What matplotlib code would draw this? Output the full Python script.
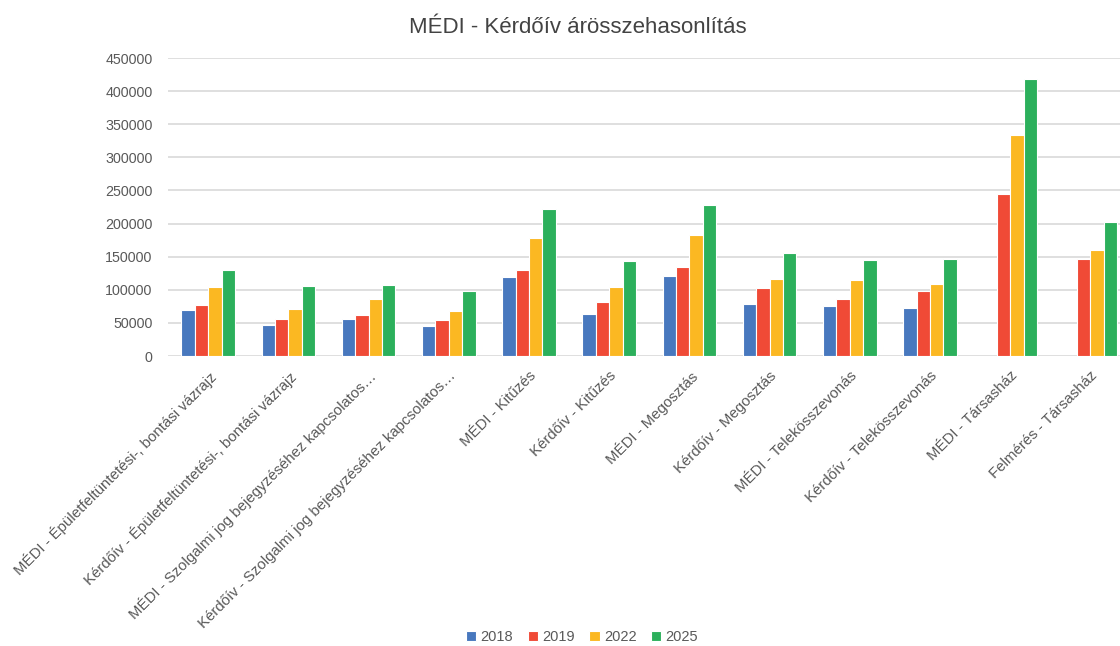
import matplotlib.pyplot as plt
import numpy as np

plt.rcParams['font.family'] = ['Liberation Sans', 'DejaVu Sans']

categories = [
    "MÉDI - Épületfeltüntetési-, bontási vázrajz",
    "Kérdőív - Épületfeltüntetési-, bontási vázrajz",
    "MÉDI - Szolgalmi jog bejegyzéséhez kapcsolatos…",
    "Kérdőív - Szolgalmi jog bejegyzéséhez kapcsolatos…",
    "MÉDI - Kitűzés",
    "Kérdőív - Kitűzés",
    "MÉDI - Megosztás",
    "Kérdőív - Megosztás",
    "MÉDI - Telekösszevonás",
    "Kérdőív - Telekösszevonás",
    "MÉDI - Társasház",
    "Felmérés - Társasház",
]
years = ["2018", "2019", "2022", "2025"]

v2018 = [69000, 46500, 56000, 45000, 119000, 63500, 121000, 78000, 76000, 72500, np.nan, np.nan]
v2019 = [76500, 56000, 61500, 54000, 130000, 82000, 134000, 102000, 85500, 98000, 244500, 147000]
v2022 = [104000, 70500, 85500, 68500, 178000, 104000, 182000, 116500, 114500, 109000, 333000, 160000]
v2025 = [130000, 105500, 107500, 98500, 222500, 143000, 228000, 156000, 145000, 147000, 418500, 202000]

colors = ['#4878be', '#f04a36', '#fbb822', '#2cb05c']
text_col = '#595959'

fig = plt.figure(figsize=(11.2, 6.46), dpi=100)
ax = fig.add_axes([168 / 1120, (646 - 356) / 646, (1130.6 - 168) / 1120, 298 / 646])

x = np.arange(len(categories))
w = 0.167
for i, (vals, c, lab) in enumerate(zip([v2018, v2019, v2022, v2025], colors, years)):
    ax.bar(x + (i - 1.5) * w, vals, width=w, color=c, edgecolor='white',
           linewidth=0.8, label=lab, zorder=3)

ax.set_xlim(-0.5, len(categories) - 0.5)
ax.set_ylim(0, 450000)
ax.set_yticks(np.arange(0, 450001, 50000))
ax.set_yticklabels([str(v) for v in range(0, 450001, 50000)])
ax.grid(axis='y', color='#d9d9d9', linewidth=1.2, zorder=0)
for s in ax.spines.values():
    s.set_visible(False)
ax.tick_params(axis='y', length=0, pad=11, labelsize=10.3, labelcolor=text_col)
ax.tick_params(axis='x', length=0, pad=9, labelsize=10.8, labelcolor=text_col)
ax.set_xticks(x)
ax.set_xticklabels(categories, rotation=45, ha='right', rotation_mode='anchor')

fig.text(578, 646 - 33, "MÉDI - Kérdőív árösszehasonlítás", transform=None,
         ha='center', va='baseline', fontsize=16, color='#434343')

leg = fig.legend(loc='center', bbox_to_anchor=(582 / 1120, 1 - 637 / 646), ncol=4,
                 frameon=False, fontsize=10.5, handlelength=0.7, handleheight=0.7,
                 handletextpad=0.3, columnspacing=1.0)
for t in leg.get_texts():
    t.set_color(text_col)

fig.savefig('out.png', dpi=100)
